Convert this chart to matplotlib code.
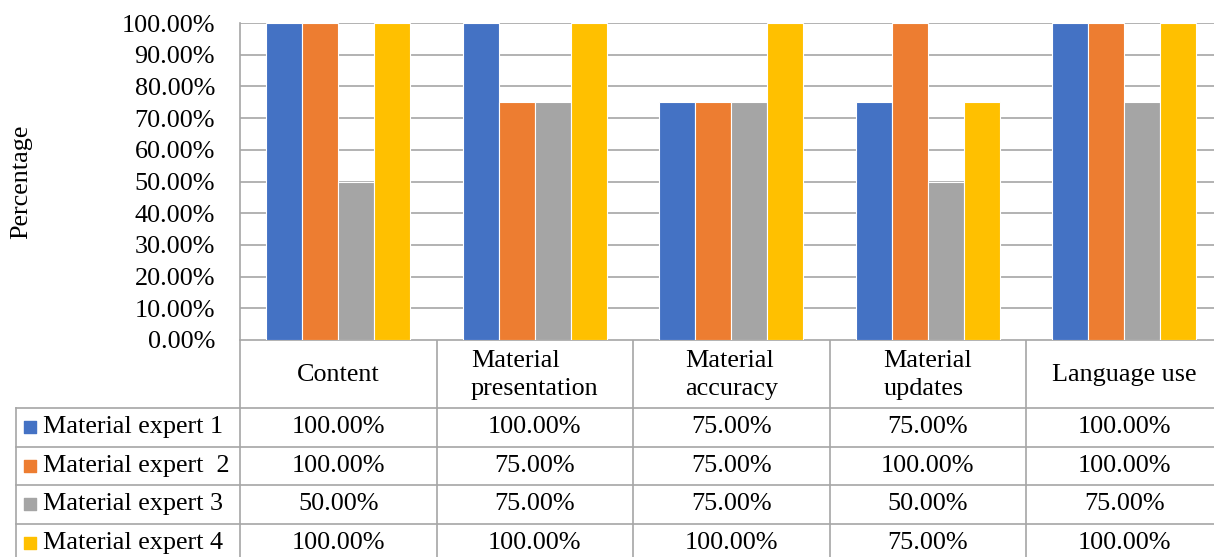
import matplotlib.pyplot as plt
import numpy as np

plt.rcParams['font.family'] = ['Liberation Serif', 'DejaVu Serif']

# aspects and expert ratings (fraction of max score)
aspects = ["Content", "Material\npresentation", "Material\naccuracy",
           "Material\nupdates", "Language use"]
experts = ["Material expert 1", "Material expert  2", "Material expert 3",
           "Material expert 4"]
expert1 = [1.00, 1.00, 0.75, 0.75, 1.00]
expert2 = [1.00, 0.75, 0.75, 1.00, 1.00]
expert3 = [0.50, 0.75, 0.75, 0.50, 0.75]
expert4 = [1.00, 1.00, 1.00, 0.75, 1.00]
colors = ["#4472c4", "#ed7d31", "#a5a5a5", "#ffc000"]
yticks = np.arange(0, 1.01, 0.1)

series = [expert1, expert2, expert3, expert4]

W, H = 1214, 557
fs = 18.8
grid_c = "#a6a6a6"

# layout in pixels
left, top, base = 240, 23, 340
cw = 196.5                     # width of one category column
row_h = 38.5
leg_left = 16
hdr_bottom = 408

fig = plt.figure(figsize=(W / 100, H / 100), dpi=100)

# table drawn in pixel coordinates underneath the bars
tab = fig.add_axes([0, 0, 1, 1])
tab.set_xlim(0, W)
tab.set_ylim(H, 0)
tab.axis('off')

ax = fig.add_axes([left / W, (H - base) / H, 5 * cw / W, (base - top) / H])
ax.set_xlim(-0.5, 4.5)
ax.set_ylim(0, 1)

x = np.arange(len(aspects))
bw = 0.183
for k, (vals, c) in enumerate(zip(series, colors)):
    ax.bar(x + (k - 1.5) * bw, vals, bw, color=c, edgecolor='white',
           linewidth=0.8, zorder=3)

ax.set_yticks(yticks)
ax.set_yticklabels(["%.2f%%" % (v * 100) for v in yticks], fontsize=fs)
ax.tick_params(axis='y', length=0, pad=18)
ax.set_xticks([])
ax.grid(axis='y', color=grid_c, linewidth=1.2)
for s in ['top', 'right', 'bottom']:
    ax.spines[s].set_visible(False)
ax.spines['left'].set_color(grid_c)
ax.spines['left'].set_linewidth(1.2)
ax.set_ylabel("Percentage", fontsize=fs, labelpad=64)

# table grid
lc = grid_c
lw = 1.2
right = left + 5 * cw
n_rows = len(experts)
bottom = hdr_bottom + n_rows * row_h
tab.plot([left, right], [base, base], color=lc, lw=lw)
for i in range(6):
    xi = left + i * cw
    tab.plot([xi, xi], [base, bottom], color=lc, lw=lw)
tab.plot([leg_left, leg_left], [hdr_bottom, bottom], color=lc, lw=lw)
for r in range(n_rows + 1):
    yr = hdr_bottom + r * row_h
    tab.plot([leg_left, right], [yr, yr], color=lc, lw=lw)

# header texts
for i, name in enumerate(aspects):
    tab.text(left + (i + 0.5) * cw, (base + hdr_bottom) / 2 + 1, name,
             ha='center', va='center', multialignment='left', fontsize=fs,
             linespacing=1.4)

# rows with legend keys and values
for r, (name, vals, c) in enumerate(zip(experts, series, colors)):
    yc = hdr_bottom + (r + 0.5) * row_h
    tab.scatter([30], [yc], marker='s', s=75, color=c)
    tab.text(43, yc, name, ha='left', va='center', fontsize=fs)
    for i, v in enumerate(vals):
        tab.text(left + (i + 0.5) * cw, yc, "%.2f%%" % (v * 100),
                 ha='center', va='center', fontsize=fs)

fig.savefig("out.png", dpi=100)
